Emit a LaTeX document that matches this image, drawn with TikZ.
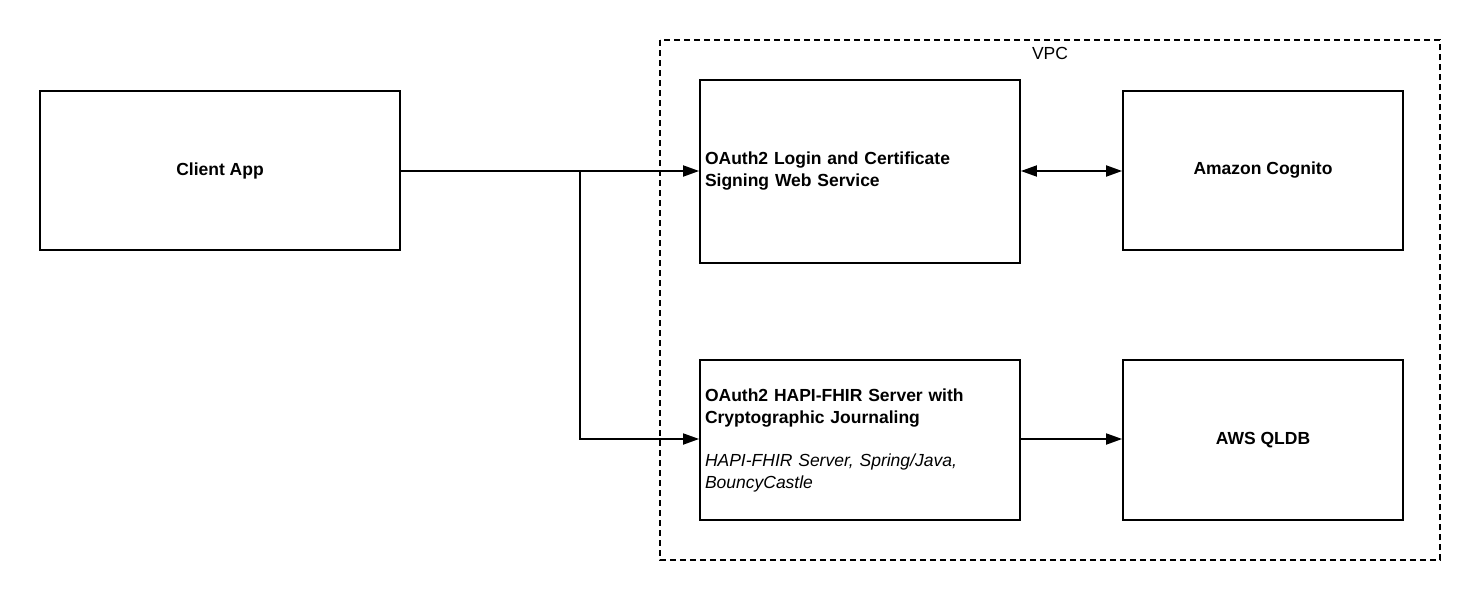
\documentclass[tikz,border=0pt]{standalone}
\usepackage{fontspec}
\setmainfont{Liberation Sans}
\usetikzlibrary{arrows.meta}

\begin{document}
\begin{tikzpicture}[x=1pt,y=-1pt,>={Triangle[length=16pt,width=11pt]},
	box_node/.style={draw,line width=1.8pt,minimum width=#1,inner sep=0pt,font=\fontsize{17.5}{22}\selectfont\bfseries},
	text_box/.style={draw,line width=1.8pt,minimum width=320pt,minimum height=#1,inner sep=5pt,text width=310pt,align=left,font=\fontsize{17.5}{22}\selectfont},
	link/.style={line width=1.8pt}]

		\useasboundingbox (0,0) rectangle (1480,600);

		% VPC border
		\draw[line width=1.8pt,dash pattern=on 6pt off 4pt] (660,40) rectangle (1440,560);
		\node[font=\fontsize{17.5}{20}\selectfont] (vpc) at (1050,53) {VPC};

		\node[box_node=360pt,minimum height=159pt] (client) at (220,170.5) {Client App};
		\node[text_box=183pt] (login) at (860,171.5) {\bfseries OAuth2 Login and Certificate\\Signing Web Service};
		\node[box_node=280pt,minimum height=159pt] (cognito) at (1263,170.5) {Amazon Cognito};
		\node[text_box=160pt] (hapi) at (860,440) {{\bfseries OAuth2 HAPI-FHIR Server with}\\{\bfseries Cryptographic Journaling}\\[21pt]{\itshape HAPI-FHIR Server, Spring/Java,}\\{\itshape BouncyCastle}};
		\node[box_node=280pt,minimum height=160pt] (qldb) at (1263,440) {AWS QLDB};

		\coordinate (split) at (580,171);

		\draw[link,->] (client.east |- split) -- (login.west |- split);
		\draw[link,->] (split) |- (hapi.west |- 0,439);
		\draw[link,<->] (login.east |- split) -- (cognito.west |- split);
		\draw[link,->] (hapi.east |- 0,439) -- (qldb.west |- 0,439);
\end{tikzpicture}
\end{document}
